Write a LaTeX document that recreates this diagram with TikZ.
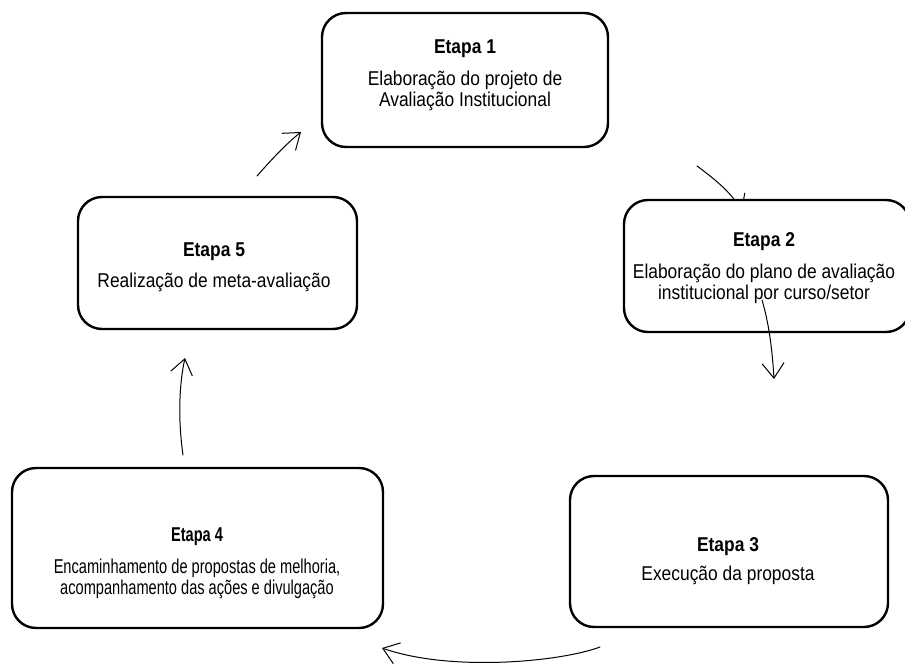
\documentclass[tikz,border=0pt]{standalone}
\usepackage{fontspec}
\setmainfont[FakeStretch=0.87]{Liberation Sans}
\newfontfamily\estreita[FakeStretch=0.73]{Liberation Sans}
\usetikzlibrary{arrows.meta}
\definecolor{ink}{HTML}{000000}
\tikzset{
  etapa/.style={draw=ink, line width=2.4pt, rounded corners=24pt, fill=white, inner sep=0pt},
  seta/.style={draw=ink, line width=1pt, line cap=round, -{Straight Barb[length=15pt,width=22pt]}},
  txt/.style={text=ink, font=\fontsize{20}{21}\selectfont, align=center},
}
\begin{document}
\begin{tikzpicture}[x=1pt,y=-1pt]
  \useasboundingbox (0,0) rectangle (905,666);
  % arrow ends
  \coordinate (a1s) at (257,176);
  \coordinate (a1e) at (301,132);
  \coordinate (a2s) at (697,166);
  \coordinate (a2e) at (742,212);
  \coordinate (a3s) at (762,300);
  \coordinate (a3e) at (774,379);
  \coordinate (a4s) at (600,647);
  \coordinate (a4e) at (382,648);
  \coordinate (a5s) at (183,455);
  \coordinate (a5e) at (185,358);
  \draw[seta] (a2s) .. controls (716,180) and (733,194) .. (a2e);
  % boxes
  \node[etapa, minimum width=286pt, minimum height=134pt] (e1) at (465,80) {};
  \node[etapa, minimum width=286pt, minimum height=132pt] (e2) at (767,266) {};
  \node[etapa, minimum width=318pt, minimum height=151pt] (e3) at (729,551.5) {};
  \node[etapa, minimum width=371pt, minimum height=160pt] (e4) at (197.5,548) {};
  \node[etapa, minimum width=279pt, minimum height=132pt] (e5) at (217.5,263) {};
  % texts
  \node[txt] (t1) at (465,75) {\textbf{Etapa 1}\\[11pt]Elaboração do projeto de\\Avaliação Institucional};
  \node[txt] (t2) at (764,268) {\textbf{Etapa 2}\\[11pt]Elaboração do plano de avaliação\\institucional por curso/setor};
  \node[txt] (t3) at (728,561) {\textbf{Etapa 3}\\[8pt]Execução da proposta};
  \node[txt, font=\estreita\fontsize{20}{21}\selectfont] (t4) at (197,563) {\textbf{Etapa 4}\\[11pt]Encaminhamento de propostas de melhoria,\\acompanhamento das ações e divulgação};
  \node[txt] (t5) at (214,267) {\textbf{Etapa 5}\\[10pt]Realização de meta-avaliação};
  % arrows
  \draw[seta] (a1s) .. controls (272,159) and (286,144) .. (a1e);
  \draw[seta] (a3s) .. controls (768,320) and (772,345) .. (a3e);
  \draw[seta] (a4s) .. controls (560,662) and (450,672) .. (a4e);
  \draw[seta] (a5s) .. controls (178,420) and (179,385) .. (a5e);
\end{tikzpicture}
\end{document}
